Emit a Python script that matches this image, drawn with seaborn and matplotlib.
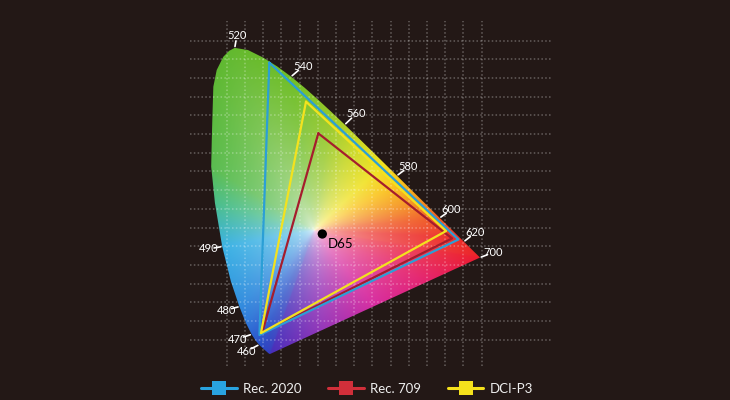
import numpy as np
import matplotlib
matplotlib.use("Agg")
import matplotlib.pyplot as plt
import seaborn as sns
from matplotlib.path import Path
from matplotlib.patches import PathPatch
from matplotlib.lines import Line2D

# ---------------- data ----------------
wavelengths = [380, 390, 400, 410, 420, 425, 430, 435, 440, 445, 450, 455, 460, 465,
               470, 475, 480, 485, 490, 495, 500, 503, 505, 508, 510, 513, 516, 520, 525,
               530, 535, 540, 545, 550, 555, 560, 565, 570, 575, 580, 585, 590, 595, 600,
               605, 610, 615, 620, 625, 630, 640, 650, 660, 680, 700]
locus_x = [0.1741, 0.1738, 0.1733, 0.1726, 0.1714, 0.1703, 0.1689, 0.1669, 0.1644, 0.1611,
           0.1566, 0.1510, 0.1440, 0.1355, 0.1241, 0.1096, 0.0913, 0.0687, 0.0454, 0.0260,
           0.0160, 0.0175, 0.0190, 0.0217, 0.0307, 0.0484, 0.0640, 0.0790, 0.1142, 0.1547,
           0.1929, 0.2296, 0.2658, 0.3016, 0.3373, 0.3731, 0.4087, 0.4441, 0.4788, 0.5125,
           0.5448, 0.5752, 0.6029, 0.6270, 0.6482, 0.6658, 0.6801, 0.6915, 0.7006, 0.7079,
           0.7190, 0.7260, 0.7300, 0.7334, 0.7347]
locus_y = [0.0050, 0.0049, 0.0048, 0.0048, 0.0051, 0.0058, 0.0069, 0.0086, 0.0109, 0.0138,
           0.0177, 0.0227, 0.0297, 0.0399, 0.0578, 0.0868, 0.1327, 0.2007, 0.2950, 0.4127,
           0.5110, 0.5800, 0.6370, 0.7270, 0.7720, 0.8080, 0.8240, 0.8320, 0.8262, 0.8059,
           0.7816, 0.7543, 0.7243, 0.6923, 0.6589, 0.6245, 0.5896, 0.5547, 0.5202, 0.4866,
           0.4544, 0.4242, 0.3965, 0.3725, 0.3514, 0.3340, 0.3197, 0.3083, 0.2993, 0.2920,
           0.2809, 0.2740, 0.2700, 0.2666, 0.2653]

label_wavelengths = [460, 470, 480, 490, 520, 540, 560, 580, 600, 620, 700]

gamut_names = ["Rec. 2020", "Rec. 709", "DCI-P3"]
rec2020_x = [0.1714, 0.6770, 0.1450]
rec2020_y = [0.7920, 0.3140, 0.0560]
rec709_x = [0.3024, 0.6600, 0.1520]
rec709_y = [0.6010, 0.3170, 0.0610]
p3_x = [0.2695, 0.6440, 0.1490]
p3_y = [0.6866, 0.3370, 0.0610]

white_name = "D65"
white_x = [0.3131]
white_y = [0.3290]

# ---------------- style ----------------
BG = "#231816"
sns.set_theme(style="dark", rc={"axes.facecolor": BG, "figure.facecolor": BG})
plt.rcParams["font.family"] = ["Lato", "DejaVu Sans"]

fig = plt.figure(figsize=(7.3, 4.0), dpi=100)
ax = fig.add_axes([0, 0, 1, 1])
ax.set_xlim(-0.5487, 1.4032)
ax.set_ylim(-0.1197, 0.9614)
ax.set_axis_off()

# ---------------- colour field ----------------
pal_wl = [380, 450, 460, 470, 480, 490, 495, 500, 510, 520, 540, 555, 565, 575,
          582, 590, 600, 615, 700]
pal_rgb = np.array([[70, 45, 185], [45, 70, 195], [40, 80, 200], [45, 100, 210],
                    [50, 140, 222], [60, 178, 228], [75, 190, 140], [90, 188, 80],
                    [95, 185, 50], [100, 185, 45], [112, 190, 40], [150, 200, 40],
                    [200, 215, 35], [240, 225, 30], [250, 195, 25], [245, 150, 30],
                    [240, 90, 35], [236, 45, 40], [235, 28, 45]]) / 255.0
purple_rgb = np.array([[235, 28, 45], [228, 35, 110], [215, 45, 160],
                       [150, 55, 185], [70, 45, 185]]) / 255.0

lx = np.array(locus_x)
ly = np.array(locus_y)
lw_ = np.array(wavelengths, float)
bx, by, bc = [], [], []
for i in range(len(lx) - 1):
    t = np.linspace(0, 1, 40, endpoint=False)
    bx.append(lx[i] + (lx[i + 1] - lx[i]) * t)
    by.append(ly[i] + (ly[i + 1] - ly[i]) * t)
    w = lw_[i] + (lw_[i + 1] - lw_[i]) * t
    bc.append(np.stack([np.interp(w, pal_wl, pal_rgb[:, k]) for k in range(3)], -1))
t = np.linspace(0, 1, 400, endpoint=False)
bx.append(lx[-1] + (lx[0] - lx[-1]) * t)
by.append(ly[-1] + (ly[0] - ly[-1]) * t)
tp = np.linspace(0, 1, len(purple_rgb))
bc.append(np.stack([np.interp(t, tp, purple_rgb[:, k]) for k in range(3)], -1))
bx = np.concatenate(bx)
by = np.concatenate(by)
bc = np.concatenate(bc)

wx0, wy0 = white_x[0] - 0.022, white_y[0] + 0.01
ang_b = np.arctan2(by - wy0, bx - wx0)
rad_b = np.hypot(bx - wx0, by - wy0)
order = np.argsort(ang_b)
ang_b, rad_b, bc = ang_b[order], rad_b[order], bc[order]

gx = np.linspace(0, 0.75, 600)
gy = np.linspace(0, 0.85, 700)
GX, GY = np.meshgrid(gx, gy)
ang = np.arctan2(GY - wy0, GX - wx0)
rad = np.hypot(GX - wx0, GY - wy0)
R = np.interp(ang, ang_b, rad_b, period=2 * np.pi)
edge = np.stack([np.interp(ang, ang_b, bc[:, k], period=2 * np.pi) for k in range(3)], -1)
f = np.clip(rad / R, 0, 1) ** 0.38
img = 1.0 * (1 - f[..., None]) + edge * f[..., None]
img = np.clip(img, 0, 1)

verts = list(zip(locus_x, locus_y)) + [(locus_x[0], locus_y[0])]
patch = PathPatch(Path(verts, closed=True), facecolor="none", edgecolor="none")
ax.add_patch(patch)
im = ax.imshow(img, extent=(0, 0.75, 0, 0.85), origin="lower",
               interpolation="bilinear", aspect="auto", zorder=1)
im.set_clip_path(patch)

# grid (decorative dotted)
gxs = 0.0575 + 0.0487 * np.arange(15)
gys = 0.8514 - 0.0505 * np.arange(17)
for xv in gxs:
    ax.plot([xv, xv], [-0.0278, 0.9047], color="white", alpha=0.3, lw=1.1,
            ls=(0, (1, 1.5)), zorder=2)
for yv in gys:
    ax.plot([-0.0406, 0.9273], [yv, yv], color="white", alpha=0.3, lw=1.1,
            ls=(0, (1, 1.5)), zorder=2)

# gamut triangles
tri_colors = {"Rec. 2020": "#2b9fd6", "Rec. 709": "#a51d2d", "DCI-P3": "#f3e21e"}
tri_data = {"Rec. 709": (rec709_x, rec709_y),
            "Rec. 2020": (rec2020_x, rec2020_y),
            "DCI-P3": (p3_x, p3_y)}
for name, (tx, ty) in tri_data.items():
    sns.lineplot(x=tx + tx[:1], y=ty + ty[:1], sort=False, estimator=None,
                 color=tri_colors[name], lw=1.6, ax=ax, zorder=4)

# white point
sns.scatterplot(x=white_x, y=white_y, color="black", s=45, ax=ax, zorder=5,
                edgecolor="none")
ax.annotate(white_name, (white_x[0], white_y[0]), xytext=(5, -10),
            textcoords="offset pixels", fontsize=9.5, color="black",
            ha="left", va="center", zorder=6)

# wavelength labels
offsets = {460: (-13, -6.7), 470: (-14, -4.7), 480: (-13.3, -3.4), 490: (-14, -2.4),
           520: (2, 12), 540: (12.4, 10.6), 560: (11.8, 11.2), 580: (11.6, 8.7),
           600: (11.3, 7.9), 620: (11.2, 8.7), 700: (13, 5)}
for wl in label_wavelengths:
    i = wavelengths.index(wl)
    px, py = locus_x[i], locus_y[i]
    dx, dy = offsets[wl]
    ax.annotate("", (px, py), xytext=(dx * 0.58, dy * 0.58), textcoords="offset pixels",
                arrowprops=dict(arrowstyle="-", color="white", lw=1.2,
                                shrinkA=0, shrinkB=1.0), zorder=6)
    ax.annotate(str(wl), (px, py), xytext=(dx, dy), textcoords="offset pixels",
                fontsize=8, color="white", ha="center", va="center", zorder=6)

# legend
leg_colors = {"Rec. 2020": "#29a3e0", "Rec. 709": "#d12f3a", "DCI-P3": "#f4e11c"}
handles = [Line2D([0], [0], color=leg_colors[n], lw=2.2, marker="s", markersize=10.5,
                  markeredgewidth=0) for n in gamut_names]
fig.legend(handles, gamut_names, loc="center", bbox_to_anchor=(0.503, 0.028),
           ncol=3, frameon=False, fontsize=9.5, labelcolor="#eeeeee",
           handlelength=2.7, handletextpad=0.5, columnspacing=2.0, numpoints=1)

fig.savefig("out.png", dpi=100, facecolor=BG)
